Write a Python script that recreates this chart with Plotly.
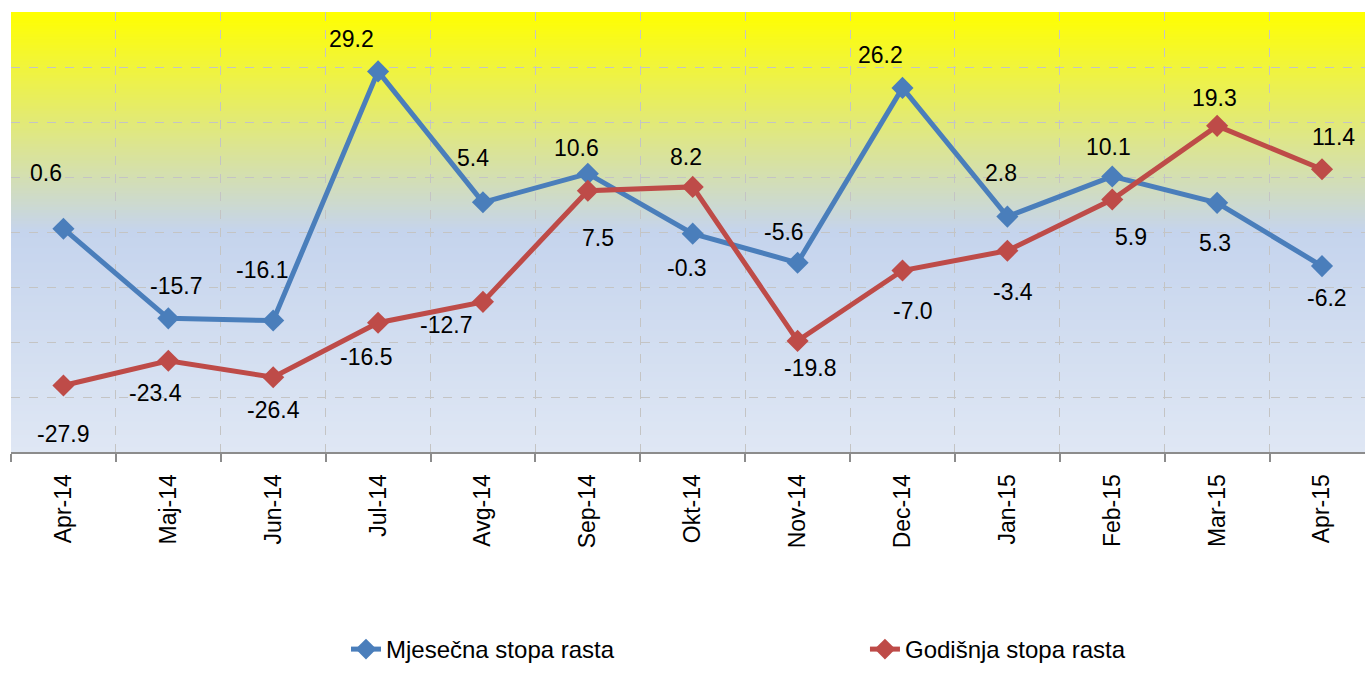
import plotly.graph_objects as go

months = ["Apr-14", "Maj-14", "Jun-14", "Jul-14", "Avg-14", "Sep-14", "Okt-14",
          "Nov-14", "Dec-14", "Jan-15", "Feb-15", "Mar-15", "Apr-15"]
mjesecna = [0.6, -15.7, -16.1, 29.2, 5.4, 10.6, -0.3, -5.6, 26.2, 2.8, 10.1, 5.3, -6.2]
godisnja = [-27.9, -23.4, -26.4, -16.5, -12.7, 7.5, 8.2, -19.8, -7.0, -3.4, 5.9, 19.3, 11.4]

name_m = "Mjesečna stopa rasta"
name_g = "Godišnja stopa rasta"

# label offsets in pixels (style only)
m_dx = [-17, 8, -11, -27, -10, -11, -6, -14, -22, -6, -4, -2, 5]
m_dy = [56, 32, 51, 32, 44, 26, -34, 31, 33, 44, 29, -40, -32]
g_dx = [0, -13, 0, -12, -37, 10, -7, 12, 11, 6, 19, -3, 11]
g_dy = [-49, -32, -33, -34, -23, -47, 30, -27, -40, -41, -37, 28, 32]

BLUE = "#4A7EBB"
RED = "#BE4B48"
FONT = "Liberation Sans, Arial, sans-serif"

fig = go.Figure()
fig.add_trace(go.Scatter(x=months, y=mjesecna, mode="lines+markers", name=name_m,
                         line=dict(color=BLUE, width=5),
                         marker=dict(symbol="diamond", size=17, color=BLUE),
                         legend="legend"))
fig.add_trace(go.Scatter(x=months, y=godisnja, mode="lines+markers", name=name_g,
                         line=dict(color=RED, width=5),
                         marker=dict(symbol="diamond", size=17, color=RED),
                         legend="legend2"))

annotations = []
for i, m in enumerate(months):
    annotations.append(dict(x=m, y=mjesecna[i], text=f"{mjesecna[i]:.1f}", showarrow=False,
                            xshift=m_dx[i], yshift=m_dy[i],
                            font=dict(family=FONT, size=23, color="black")))
    annotations.append(dict(x=m, y=godisnja[i], text=f"{godisnja[i]:.1f}", showarrow=False,
                            xshift=g_dx[i], yshift=g_dy[i],
                            font=dict(family=FONT, size=23, color="black")))

# gradient background via overlapping thin strips
def lerp(c1, c2, t):
    return tuple(round(a + (b - a) * t) for a, b in zip(c1, c2))

top = (255, 255, 0)
mid = (197, 212, 237)
bot = (223, 231, 244)
shapes = []
n = 160
ymin, ymax = -40.0, 40.0
step = (ymax - ymin) / n
for k in range(n):
    y0 = ymin + k * step
    y1 = min(y0 + 2 * step, ymax)
    yc = y0 + step / 2
    if yc >= 0:
        c = lerp(mid, top, yc / ymax)
    else:
        c = lerp(mid, bot, yc / ymin)
    shapes.append(dict(type="rect", xref="paper", yref="y", x0=0, x1=1, y0=y0, y1=y1,
                       fillcolor=f"rgb{c}", line=dict(width=0), layer="below"))

fig.update_layout(
    width=1365, height=673,
    margin=dict(l=11, r=0, t=12, b=221, autoexpand=False),
    paper_bgcolor="white",
    plot_bgcolor="rgba(0,0,0,0)",
    font=dict(family=FONT, size=22, color="black"),
    shapes=shapes,
    annotations=annotations,
    showlegend=True,
    legend=dict(x=0.2474, y=-0.5, xanchor="left", yanchor="bottom",
                orientation="h", bgcolor="rgba(0,0,0,0)", font=dict(size=24, family=FONT)),
    legend2=dict(x=0.6307, y=-0.5, xanchor="left", yanchor="bottom",
                 orientation="h", bgcolor="rgba(0,0,0,0)", font=dict(size=24, family=FONT)),
)
fig.update_xaxes(type="category", range=[-0.5, 12.41], tickson="boundaries",
                 showgrid=True, gridcolor="#C4C4C4", griddash="dash", gridwidth=1,
                 showline=True, linecolor="#8C8C8C", linewidth=2,
                 ticks="outside", ticklen=8, tickcolor="#8C8C8C", tickwidth=2,
                 ticklabelstandoff=11,
                 tickangle=-90, tickfont=dict(size=23, family=FONT, color="black"))
fig.update_yaxes(range=[-40, 40], dtick=10, showticklabels=False,
                 showgrid=True, gridcolor="#C4C4C4", griddash="dash", gridwidth=1,
                 zeroline=False, showline=False, ticks="")

fig.write_html("out.html", config={"displayModeBar": False},
               post_script="document.body.style.margin='0px';document.body.style.overflow='hidden';")
